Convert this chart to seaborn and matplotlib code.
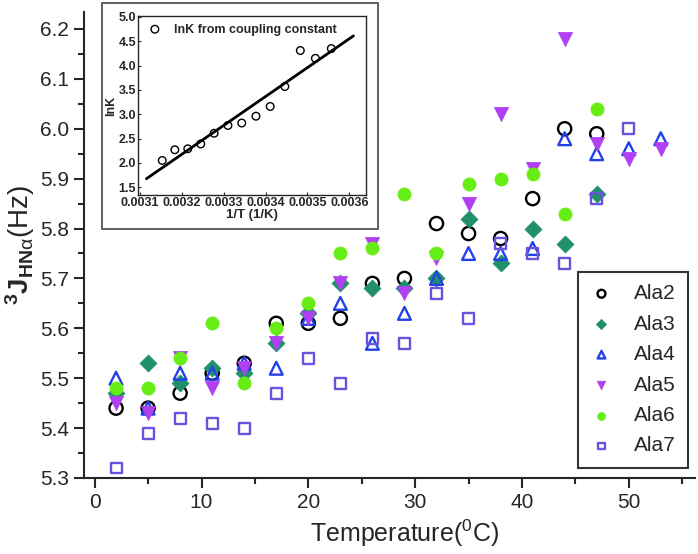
import matplotlib
matplotlib.use("Agg")
import numpy as np
import pandas as pd
import matplotlib.pyplot as plt
import seaborn as sns
from matplotlib.patches import Rectangle
from matplotlib.ticker import MultipleLocator, FormatStrFormatter

# ---------- DATA ----------
temps = [2, 5, 8, 11, 14, 17, 20, 23, 26, 29, 32, 35, 38, 41, 44, 47, 50, 53]

ala2 = [5.44, 5.44, 5.47, 5.51, 5.53, 5.61, 5.61, 5.62, 5.69, 5.70, 5.81, 5.79, 5.78, 5.86, 6.00, 5.99]
ala3 = [5.47, 5.53, 5.49, 5.52, 5.51, 5.57, 5.63, 5.69, 5.68, 5.68, 5.70, 5.82, 5.73, 5.80, 5.77, 5.87]
ala4 = [5.50, 5.44, 5.51, 5.51, 5.53, 5.52, 5.62, 5.65, 5.57, 5.63, 5.70, 5.75, 5.75, 5.76, 5.98, 5.95, 5.96, 5.98]
ala5 = [5.45, 5.43, 5.54, 5.48, 5.52, 5.57, 5.62, 5.69, 5.77, 5.67, 5.74, 5.85, 6.03, 5.92, 6.18, 5.97, 5.94, 5.96]
ala6 = [5.48, 5.48, 5.54, 5.61, 5.49, 5.60, 5.65, 5.75, 5.76, 5.87, 5.75, 5.89, 5.90, 5.91, 5.83, 6.04]
ala7 = [5.32, 5.39, 5.42, 5.41, 5.40, 5.47, 5.54, 5.49, 5.58, 5.57, 5.67, 5.62, 5.77, 5.75, 5.73, 5.86, 6.00]

# inset: lnK vs 1/T
inv_t = [0.003153, 0.003183, 0.003214, 0.003245, 0.003277, 0.003310, 0.003343,
         0.003377, 0.003411, 0.003446, 0.003483, 0.003519, 0.003557]
lnk = [2.05, 2.27, 2.29, 2.39, 2.61, 2.77, 2.82, 2.96, 3.16, 3.57, 4.31, 4.15, 4.35]
fit_range = [0.003115, 0.00361]
# ---------------------------

series = [
    ("Ala2", ala2, "o", "black", False),
    ("Ala3", ala3, "D", "#1f8f6c", True),
    ("Ala4", ala4, "^", "#2341e8", False),
    ("Ala5", ala5, "v", "#b040f2", True),
    ("Ala6", ala6, "o", "#66ee14", True),
    ("Ala7", ala7, "s", "#6a52dc", False),
]

sns.set_style("ticks")
plt.rcParams["font.family"] = ["Liberation Sans", "DejaVu Sans"]
plt.rcParams["mathtext.fontset"] = "custom"
plt.rcParams["mathtext.rm"] = "Liberation Sans"
plt.rcParams["mathtext.bf"] = "Liberation Sans:bold"
plt.rcParams["mathtext.it"] = "Liberation Sans:italic"

fig = plt.figure(figsize=(6.98, 5.54), dpi=100)
W, H = 698, 554
ax = fig.add_axes([84 / W, 1 - 478 / H, (695 - 84) / W, (478 - 12) / H])

for name, vals, mk, col, filled in series:
    df = pd.DataFrame({"T": temps[:len(vals)], "J": vals})
    size = {"o": 90, "D": 75, "^": 85, "v": 105, "s": 62}[mk]
    if filled:
        sns.scatterplot(data=df, x="T", y="J", ax=ax, marker=mk, s=size,
                        color=col, edgecolor=col, linewidth=0.5, label=name, zorder=3)
    else:
        sns.scatterplot(data=df, x="T", y="J", ax=ax, marker=mk, s=size,
                        color=col, facecolor="none", edgecolor=col, linewidth=1.7,
                        label=name, zorder=3)

ax.set_xlim(-1.0, 56.2)
ax.set_ylim(5.3, 6.234)
ax.xaxis.set_major_locator(MultipleLocator(10))
ax.xaxis.set_minor_locator(MultipleLocator(5))
ax.yaxis.set_major_locator(MultipleLocator(0.1))
ax.yaxis.set_minor_locator(MultipleLocator(0.05))
ax.yaxis.set_major_formatter(FormatStrFormatter("%.1f"))
ax.tick_params(which="major", length=7.5, width=1.5, labelsize=15, direction="out")
ax.tick_params(which="minor", length=4, width=1.5, direction="out")
for sp in ["top", "right"]:
    ax.spines[sp].set_visible(False)
for sp in ["left", "bottom"]:
    ax.spines[sp].set_linewidth(1.5)
ax.set_xlabel(r"Temperature($^{0}$C)", fontsize=18, labelpad=3)
ax.xaxis.set_label_coords(0.525, -0.085)
ax.set_ylabel(r"$^{\mathbf{3}}\mathbf{J}_{\mathbf{HN}\mathrm{\alpha}}$(Hz)", fontsize=20, labelpad=2)

leg = ax.legend(loc="lower right", bbox_to_anchor=(0.9886, 0.0215), fontsize=15,
                frameon=True, fancybox=False, edgecolor="black", markerscale=0.6,
                labelspacing=0.55, borderpad=0.6, handletextpad=1.0, handlelength=1.1,
                borderaxespad=0)
leg.get_frame().set_linewidth(1.5)

# ---------- INSET ----------
fig.patches.append(Rectangle((102 / W, 1 - 229 / H), (378 - 102) / W, (229 - 3) / H,
                             transform=fig.transFigure, fill=False,
                             edgecolor="#555555", linewidth=1.3))
ins = fig.add_axes([138 / W, 1 - 195 / H, (366 - 138) / W, (195 - 16) / H])
sns.scatterplot(x=inv_t, y=lnk, ax=ins, marker="o", s=30, color="black",
                facecolor="none", edgecolor="black", linewidth=1.0,
                label="lnK from coupling constant", zorder=3)
coef = np.polyfit(inv_t, lnk, 1)
ins.plot(fit_range, np.polyval(coef, fit_range), color="black", linewidth=2.0)
ins.set_xlim(0.003095, 0.00364)
ins.set_ylim(1.34, 5.02)
ins.xaxis.set_major_locator(MultipleLocator(0.0001))
ins.yaxis.set_major_locator(MultipleLocator(0.5))
ins.xaxis.set_major_formatter(FormatStrFormatter("%.4f"))
ins.yaxis.set_major_formatter(FormatStrFormatter("%.1f"))
ins.tick_params(length=2.5, width=0.8, direction="in", labelsize=9, pad=1.5)
for lab in ins.get_xticklabels() + ins.get_yticklabels():
    lab.set_fontweight("bold")
for sp in ins.spines.values():
    sp.set_linewidth(1.0)
ins.set_xlabel("1/T (1/K)", fontsize=9.5, fontweight="bold", labelpad=0)
ins.set_ylabel("lnK", fontsize=9, fontweight="bold", labelpad=1)
ileg = ins.legend(loc="upper left", frameon=False, markerscale=1.0,
                  prop={"size": 9, "weight": "bold"}, handletextpad=0.8,
                  borderaxespad=0.2, handlelength=1.5)

fig.savefig("out.png", dpi=100)
